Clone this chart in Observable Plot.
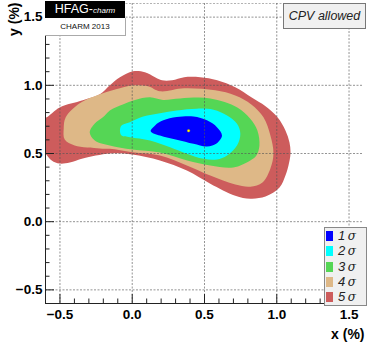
<!DOCTYPE html>
<html><head><meta charset="utf-8">
<script src="https://cdn.jsdelivr.net/npm/d3@7"></script>
<script src="https://cdn.jsdelivr.net/npm/@observablehq/plot@0.6"></script>
<style>
body{margin:0;background:#fff;}
#wrap{position:relative;width:367px;height:346px;overflow:hidden;font-family:"Liberation Sans",Arial,sans-serif;}
#wrap svg{position:absolute;left:0;top:0;}
.box{position:absolute;box-sizing:border-box;}
</style></head><body>
<div id="wrap"></div>
<script>
// ---- data ----
const sigmaLabels = ["1", "2", "3", "4", "5"];
const sigmaColors = ["#0000ff", "#00ffff", "#55d655", "#deb887", "#cd5c5c"];

// 5 sigma contour (x %, y %)
const s5x = [-0.654,-0.641,-0.592,-0.502,-0.342,-0.224,-0.155,-0.085,0.005,0.088,0.158,0.206,0.276,0.359,0.470,0.588,0.713,0.824,0.922,1.005,1.060,1.088,1.095,1.081,1.060,1.019,0.922,0.817,0.713,0.540,0.378,0.192,0.000,-0.155,-0.342,-0.432,-0.502,-0.557,-0.606,-0.654];
const s5y = [0.706,0.743,0.765,0.838,0.890,0.934,1.000,1.059,1.103,1.096,1.059,1.037,1.037,1.059,1.059,1.037,0.985,0.912,0.846,0.765,0.669,0.581,0.500,0.412,0.338,0.250,0.184,0.169,0.191,0.279,0.375,0.449,0.493,0.500,0.463,0.434,0.426,0.449,0.507,0.559];
// 4 sigma
const s4x = [-0.474,-0.460,-0.363,-0.203,-0.085,0.005,0.109,0.192,0.359,0.574,0.713,0.824,0.908,0.956,0.977,0.956,0.901,0.817,0.713,0.540,0.378,0.192,0.000,-0.155,-0.224,-0.398,-0.467];
const s4y = [0.684,0.765,0.868,0.941,0.978,1.000,0.993,0.956,0.978,0.963,0.926,0.860,0.765,0.632,0.500,0.390,0.287,0.257,0.272,0.338,0.412,0.485,0.510,0.534,0.537,0.559,0.603];
// 3 sigma
const s3x = [-0.294,-0.259,-0.203,-0.155,-0.065,0.019,0.123,0.213,0.331,0.540,0.727,0.815,0.866,0.880,0.859,0.817,0.699,0.540,0.380,0.192,0.000,-0.155,-0.259];
const s3y = [0.654,0.720,0.765,0.816,0.860,0.893,0.912,0.893,0.904,0.904,0.838,0.757,0.669,0.559,0.485,0.449,0.397,0.412,0.449,0.507,0.529,0.559,0.596];
// 2 sigma
const s2x = [-0.085,-0.074,-0.016,0.076,0.192,0.308,0.447,0.563,0.656,0.725,0.748,0.725,0.656,0.586,0.493,0.378,0.262,0.123,-0.016,-0.074];
const s2y = [0.669,0.706,0.730,0.772,0.796,0.816,0.829,0.821,0.779,0.718,0.645,0.559,0.485,0.456,0.461,0.498,0.546,0.596,0.620,0.632];
// 1 sigma
const s1x = [0.128,0.158,0.215,0.308,0.424,0.517,0.586,0.621,0.586,0.517,0.424,0.308,0.192];
const s1y = [0.664,0.706,0.743,0.767,0.772,0.743,0.693,0.632,0.576,0.551,0.571,0.601,0.632];

const bestX = [0.39], bestY = [0.667];

const majorTicks = [-0.5, 0, 0.5, 1, 1.5];
const minorTicks = [-0.4,-0.3,-0.2,-0.1,0.1,0.2,0.3,0.4,0.6,0.7,0.8,0.9,1.1,1.2,1.3,1.4];

// ---- build ----
const toPts = (xs, ys) => xs.map((x, i) => ({x, y: ys[i]}));
const contours = [
  {pts: toPts(s5x, s5y), color: sigmaColors[4]},
  {pts: toPts(s4x, s4y), color: sigmaColors[3]},
  {pts: toPts(s3x, s3y), color: sigmaColors[2]},
  {pts: toPts(s2x, s2y), color: sigmaColors[1]},
  {pts: toPts(s1x, s1y), color: sigmaColors[0]}
];
const best = toPts(bestX, bestY);
const axisColor = "#222";
const gridStyle = {stroke: "#555", strokeOpacity: 0.7, strokeDasharray: "2,1.5", strokeWidth: 0.9};

const chart = Plot.plot({
  width: 367, height: 346,
  marginLeft: 45, marginRight: 4, marginTop: 3, marginBottom: 43,
  x: {domain: [-0.6, 1.6], label: null},
  y: {domain: [-0.6, 1.6], label: null},
  style: {fontFamily: "'Liberation Sans', Arial, sans-serif", background: "transparent"},
  marks: [
    ...contours.map(c => Plot.line(c.pts, {x: "x", y: "y", curve: "catmull-rom-closed", fill: c.color, stroke: "none", clip: true})),
    Plot.dot(best, {x: "x", y: "y", r: 1.3, fill: "#ffff00", stroke: "#c8a000", strokeWidth: 0.4}),
    Plot.gridX(majorTicks, gridStyle),
    Plot.gridY(majorTicks, gridStyle),
    Plot.gridY([1.6], {...gridStyle, strokeOpacity: 0.5}),
    Plot.ruleX([-0.6], {stroke: axisColor}),
    Plot.ruleY([-0.6], {stroke: axisColor}),
    Plot.axisX(majorTicks, {tickSize: 9, dy: -9, fill: "none", stroke: axisColor, label: null}),
    Plot.axisX(minorTicks, {tickSize: 4.5, dy: -4.5, fill: "none", stroke: axisColor, label: null}),
    Plot.axisY(majorTicks, {tickSize: 9, dx: 9, fill: "none", stroke: axisColor, label: null}),
    Plot.axisY(minorTicks, {tickSize: 4.5, dx: 4.5, fill: "none", stroke: axisColor, label: null}),
    Plot.axisX(majorTicks, {tickSize: 0, tickPadding: 6, fontSize: 13.5, fontWeight: "bold", fill: "#000", label: null}),
    Plot.axisY(majorTicks, {tickSize: 0, tickPadding: 3, fontSize: 13.5, fontWeight: "bold", fill: "#000", label: null}),
    Plot.text(["x (%)"], {frameAnchor: "bottom-right", dx: 1, dy: 35, textAnchor: "end", fontSize: 14, fontWeight: "bold", fill: "#000"}),
    Plot.text(["y (%)"], {frameAnchor: "top-left", dx: -36, dy: -1, rotate: -90, textAnchor: "end", fontSize: 14, fontWeight: "bold", fill: "#000"})
  ]
});
const wrap = document.getElementById("wrap");
wrap.appendChild(chart);

// HFAG label
const hfag = document.createElement("div");
hfag.className = "box";
hfag.style.cssText = "left:45px;top:1px;width:80px;height:17px;background:#000;color:#fff;text-align:center;line-height:17px;font-size:12.5px;";
hfag.innerHTML = 'HFAG-<span style="font-style:italic;font-size:8px;">charm</span>';
wrap.appendChild(hfag);
const charm = document.createElement("div");
charm.className = "box";
charm.style.cssText = "left:45px;top:18px;width:81px;height:18px;background:#fff;border-right:1px solid #aaa;border-bottom:1px solid #aaa;text-align:center;line-height:17px;font-size:8px;color:#111;";
charm.textContent = "CHARM 2013";
wrap.appendChild(charm);

// CPV allowed label
const cpv = document.createElement("div");
cpv.className = "box";
cpv.style.cssText = "left:283px;top:3px;width:83px;height:26px;background:#f0f0f0;border:1px solid #777;text-align:center;line-height:24px;font-size:12.5px;font-style:italic;color:#222;";
cpv.textContent = "CPV allowed";
wrap.appendChild(cpv);

// legend
const leg = document.createElement("div");
leg.className = "box";
leg.style.cssText = "left:324px;top:227px;width:43px;height:79px;background:#f0f0f0;border:1px solid #888;";
sigmaLabels.forEach((lab, i) => {
  const sw = document.createElement("div");
  sw.className = "box";
  sw.style.cssText = `left:1px;top:${3 + i * 15.3}px;width:7px;height:10px;background:${sigmaColors[i]};`;
  leg.appendChild(sw);
  const tx = document.createElement("div");
  tx.className = "box";
  tx.style.cssText = `left:13px;top:${1 + i * 15.3}px;font-size:13px;line-height:14px;color:#222;white-space:nowrap;`;
  tx.innerHTML = `<i>${lab}</i><span style="font-family:'DejaVu Serif',serif;font-style:italic;font-size:12px;">&thinsp;σ</span>`;
  leg.appendChild(tx);
});
wrap.appendChild(leg);
</script>
</body></html>
